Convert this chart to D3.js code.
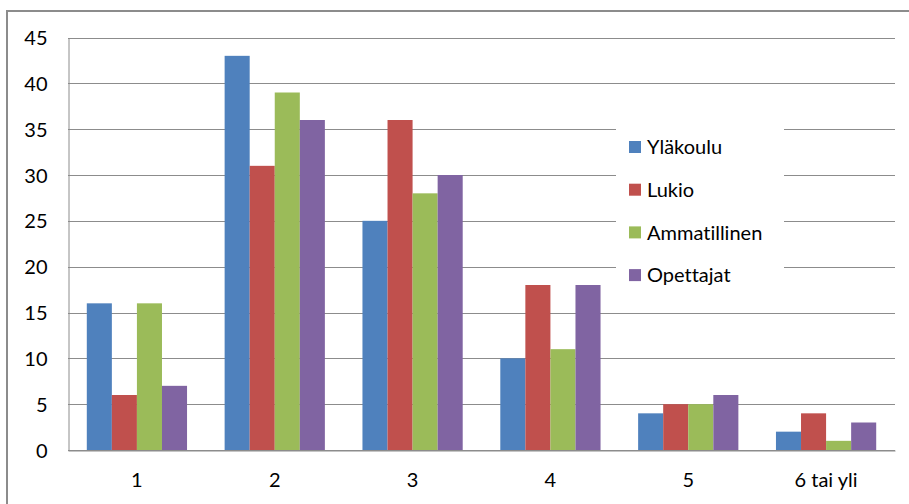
<!DOCTYPE html>
<html>
<head>
<meta charset="utf-8">
<script src="https://cdn.jsdelivr.net/npm/d3@7"></script>
<style>
  body { margin: 0; background: #fff; }
  text { font-family: Lato, "Open Sans", sans-serif; fill: #000; font-variant-ligatures: none; }
</style>
</head>
<body>
<div id="chart"></div>
<script>
// Data
const categories = ["1", "2", "3", "4", "5", "6 tai yli"]
const seriesNames = ["Yläkoulu", "Lukio", "Ammatillinen", "Opettajat"]
const ylakoulu = [16, 43, 25, 10, 4, 2]
const lukio = [6, 31, 36, 18, 5, 4]
const ammatillinen = [16, 39, 28, 11, 5, 1]
const opettajat = [7, 36, 30, 18, 6, 3]
const yTicks = [0, 5, 10, 15, 20, 25, 30, 35, 40, 45]

const values = [ylakoulu, lukio, ammatillinen, opettajat]
const colors = ["#4F81BD", "#C0504D", "#9BBB59", "#8064A2"]

// dimensions
const W = 909, H = 504
const plotLeft = 68, plotRight = 895, plotTop = 37.5, plotBottom = 450

const svg = d3.select("#chart").append("svg")
    .attr("width", W)
    .attr("height", H)

// outer frame (only top + left visible)
svg.append("rect")
    .attr("x", 7).attr("y", 11)
    .attr("width", 1000).attr("height", 1000)
    .attr("fill", "none")
    .attr("stroke", "#8c8c8c")
    .attr("stroke-width", 2)

const x = d3.scaleBand().domain(categories).range([plotLeft, plotRight]).padding(0)
const gap = x.bandwidth() * 1.5 / 5.5
const xs = d3.scaleBand().domain(seriesNames).range([gap / 2, x.bandwidth() - gap / 2]).padding(0)
const y = d3.scaleLinear().domain([0, 45]).range([plotBottom, plotTop])

// gridlines
svg.append("g")
    .selectAll("line")
    .data(yTicks)
    .join("line")
    .attr("x1", plotLeft).attr("x2", plotRight)
    .attr("y1", d => Math.round(y(d)) + 0.5)
    .attr("y2", d => Math.round(y(d)) + 0.5)
    .attr("stroke", "#8c8c8c")
    .attr("stroke-width", 1)

// y axis
const yAxis = svg.append("g")
    .attr("transform", "translate(" + (plotLeft + 0.5) + ",0)")
    .call(d3.axisLeft(y).tickValues(yTicks).tickSize(0).tickPadding(21))
yAxis.select(".domain").attr("stroke", "#8c8c8c")
yAxis.selectAll("text").style("font-size", "20px").attr("dy", "0.35em")

// bars
const groups = svg.append("g")
    .selectAll("g")
    .data(seriesNames)
    .join("g")
    .attr("fill", (d, i) => colors[i])

groups.selectAll("rect")
    .data((s, i) => values[i].map((v, j) => ({ s: s, cat: categories[j], v: v })))
    .join("rect")
    .attr("x", d => x(d.cat) + xs(d.s))
    .attr("width", xs.bandwidth())
    .attr("y", d => y(d.v))
    .attr("height", d => y(0) - y(d.v))

// x axis
const xAxis = svg.append("g")
    .attr("transform", "translate(0," + (plotBottom + 0.5) + ")")
    .call(d3.axisBottom(x).tickSize(0).tickPadding(22))
xAxis.select(".domain").attr("stroke", "#8c8c8c")
xAxis.selectAll("text").style("font-size", "20px")

// legend
const legend = svg.append("g")
legend.append("rect")
    .attr("x", 616).attr("y", 115)
    .attr("width", 168).attr("height", 185)
    .attr("fill", "#fff")

const items = legend.selectAll("g")
    .data(seriesNames)
    .join("g")
    .attr("transform", (d, i) => "translate(629," + (147 + i * 42.7) + ")")
items.append("rect")
    .attr("x", 0).attr("y", -6)
    .attr("width", 12).attr("height", 12)
    .attr("fill", (d, i) => colors[i])
items.append("text")
    .attr("x", 18)
    .attr("dy", "0.36em")
    .style("font-size", "20px")
    .text(d => d)
</script>
</body>
</html>
